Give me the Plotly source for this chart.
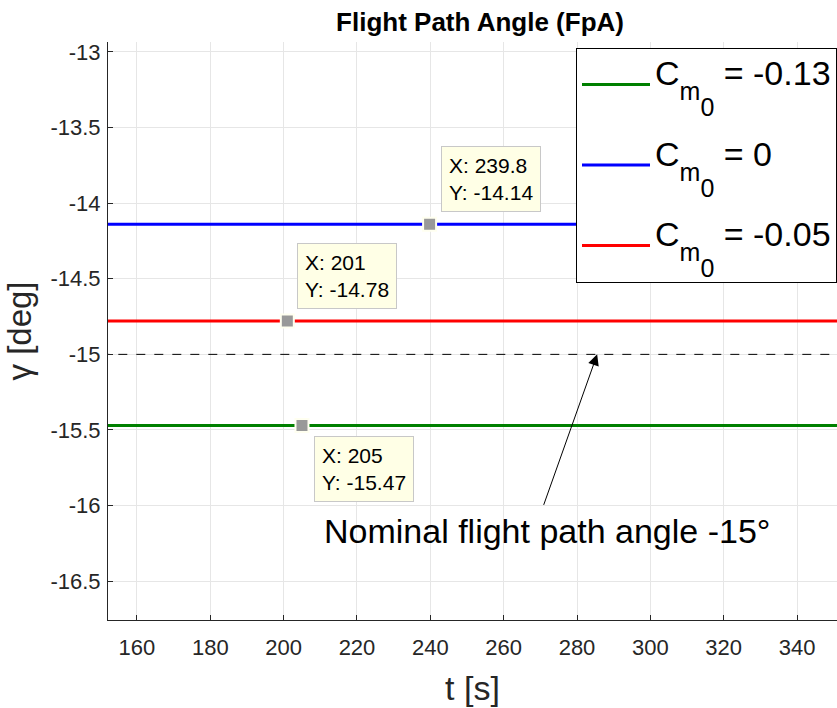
import plotly.graph_objects as go

# ---- data ----
t_span = [150.0, 355.0]
cm0_labels = ["-0.13", "0", "-0.05"]
gamma_levels = [-15.47, -14.14, -14.78]
line_colors = ["#008000", "#0000ff", "#ff0000"]
nominal_gamma = -15.0
tip_t = [239.8, 201.0, 205.0]
tip_gamma = [-14.14, -14.78, -15.47]
x_ticks = [160, 180, 200, 220, 240, 260, 280, 300, 320, 340]
y_ticks = [-13, -13.5, -14, -14.5, -15, -15.5, -16, -16.5]
y_tick_text = ["-13", "-13.5", "-14", "-14.5", "-15", "-15.5", "-16", "-16.5"]
arrow_tip_t = 285.5

FONT = "Liberation Sans, Arial, Helvetica, sans-serif"


def legend_label(val):
    return ("<span style='font-size:34px;baseline-shift:17px'>C"
            "<span style='font-size:25px;baseline-shift:-15px'>m"
            "<span style='baseline-shift:-16px'>0</span></span>"
            " = " + val + "</span>")


fig = go.Figure()

for i, (lab, lev, col) in enumerate(zip(cm0_labels, gamma_levels, line_colors)):
    fig.add_trace(go.Scatter(
        x=t_span, y=[lev, lev], mode="lines",
        line=dict(color=col, width=3),
        name=legend_label(lab),
        legendgroup="g%d" % i,
    ))

fig.add_trace(go.Scatter(
    x=t_span, y=[nominal_gamma, nominal_gamma], mode="lines",
    line=dict(color="black", width=1, dash="dash"),
    showlegend=False,
))

fig.add_trace(go.Scatter(
    x=tip_t, y=tip_gamma, mode="markers",
    marker=dict(symbol="square", size=13, color="#999999",
                line=dict(color="#fffff0", width=2)),
    showlegend=False,
))

# data tips
tip_offsets = [(11, 12, "bottom"), (10, 12, "bottom"), (12, -11, "top")]
for (tx, ty), (xs, ys, ya) in zip(zip(tip_t, tip_gamma), tip_offsets):
    fig.add_annotation(
        x=tx, y=ty, xref="x", yref="y",
        text="X: %g<br>Y: %.2f" % (tx, ty),
        showarrow=False, xanchor="left", yanchor=ya,
        xshift=xs, yshift=ys, align="left",
        font=dict(family=FONT, size=21, color="black"),
        bgcolor="#ffffe6", bordercolor="#c8c8c8", borderwidth=1, borderpad=7,
    )

# nominal annotation: arrow + text
fig.add_annotation(
    x=arrow_tip_t, y=nominal_gamma, xref="x", yref="y",
    ax=-54, ay=152, text="", showarrow=True,
    arrowhead=2, arrowsize=2.2, arrowwidth=1, arrowcolor="black",
)
fig.add_annotation(
    x=arrow_tip_t, y=nominal_gamma, xref="x", yref="y",
    text="Nominal flight path angle -15°", showarrow=False,
    xanchor="center", yanchor="middle", xshift=-50, yshift=-177,
    font=dict(family=FONT, size=34, color="black"),
)

fig.update_layout(
    width=837, height=708,
    margin=dict(l=108, r=0, t=42, b=88, autoexpand=False),
    paper_bgcolor="white", plot_bgcolor="white",
    font=dict(family=FONT, color="#262626"),
    title=dict(text="<b>Flight Path Angle (FpA)</b>", x=0.5735, xanchor="center",
               y=0.969, yanchor="middle",
               font=dict(family=FONT, size=26, color="black")),
    legend=dict(
        x=1, xanchor="right", y=0.99, yanchor="top",
        bgcolor="white", bordercolor="black", borderwidth=1,
        font=dict(family=FONT, size=45, color="black"),
        itemwidth=68, tracegroupgap=19,
    ),
    showlegend=True,
)

fig.update_xaxes(
    range=[152.1, 350.9], tickvals=x_ticks,
    showgrid=True, gridcolor="#e6e6e6", gridwidth=1,
    showline=True, linecolor="#262626", linewidth=1,
    ticks="inside", ticklen=5, tickcolor="#262626",
    ticklabelstandoff=8,
    tickfont=dict(family=FONT, size=22, color="#262626"),
    title=dict(text="t [s]", font=dict(family=FONT, size=34, color="#262626"), standoff=16),
    zeroline=False, mirror=False,
)
fig.update_yaxes(
    range=[-16.757, -12.934], tickvals=y_ticks, ticktext=y_tick_text,
    showgrid=True, gridcolor="#e6e6e6", gridwidth=1,
    showline=True, linecolor="#262626", linewidth=1,
    ticks="inside", ticklen=5, tickcolor="#262626",
    ticklabelstandoff=2,
    tickfont=dict(family=FONT, size=22, color="#262626"),
    title=dict(text="γ [deg]", font=dict(family=FONT, size=33, color="#262626"), standoff=8),
    zeroline=False, mirror=False,
)

fig.write_html("out.html")
